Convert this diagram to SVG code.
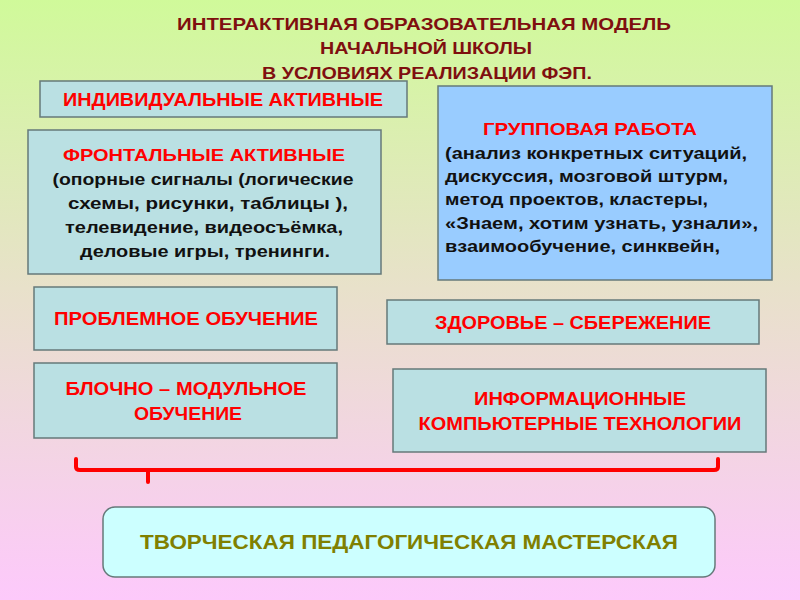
<svg xmlns="http://www.w3.org/2000/svg" width="800" height="600" viewBox="0 0 800 600">
<defs>
<linearGradient id="bg" x1="0" y1="0" x2="0" y2="1">
<stop offset="0" stop-color="#d0fa9a"/>
<stop offset="0.5" stop-color="#e9e0cc"/>
<stop offset="1" stop-color="#fdc9fb"/>
</linearGradient>
<style>
.box{fill:#bae0e3;stroke:#66797a;stroke-width:1.5}
.blue{fill:#99ccff;stroke:#66797a;stroke-width:1.5}
.final{fill:#ccffff;stroke:#66797a;stroke-width:1.5}
.nar{font-family:"Liberation Sans",Arial,sans-serif;font-weight:bold;text-anchor:middle}
.title{fill:#7f0f0f;font-size:17px}
.red{fill:#ff0000;font-size:18.5px}
.olive{fill:#808000;font-size:21px}
.reg{font-family:"Liberation Sans",Arial,sans-serif;font-weight:bold;font-size:17px}
.rh{fill:#ff0000}
.bk{fill:#111111}
.mid{text-anchor:middle}
.brace{fill:none;stroke:#ff0000;stroke-width:4;stroke-linecap:round;stroke-linejoin:round}
</style>
</defs>
<rect width="800" height="600" fill="url(#bg)"/>
<g id="title">
<text class="nar title" x="424" y="30" textLength="494" lengthAdjust="spacingAndGlyphs">ИНТЕРАКТИВНАЯ ОБРАЗОВАТЕЛЬНАЯ  МОДЕЛЬ</text>
<text class="nar title" x="426" y="54" textLength="212" lengthAdjust="spacingAndGlyphs">НАЧАЛЬНОЙ ШКОЛЫ</text>
<text class="nar title" x="427" y="78.5" textLength="330" lengthAdjust="spacingAndGlyphs">В УСЛОВИЯХ РЕАЛИЗАЦИИ ФЭП.</text>
</g>
<g id="individual">
<rect class="box" x="40" y="81" width="367" height="36"/>
<text class="nar red" x="223" y="105.5" textLength="320" lengthAdjust="spacingAndGlyphs">ИНДИВИДУАЛЬНЫЕ АКТИВНЫЕ</text>
</g>
<g id="frontal">
<rect class="box" x="28" y="130" width="353" height="144"/>
<text class="reg rh mid" x="204" y="161" textLength="282" lengthAdjust="spacingAndGlyphs">ФРОНТАЛЬНЫЕ АКТИВНЫЕ</text>
<text class="reg bk mid" x="203" y="185" textLength="301" lengthAdjust="spacingAndGlyphs">(опорные сигналы (логические</text>
<text class="reg bk mid" x="208" y="209" textLength="280" lengthAdjust="spacingAndGlyphs">схемы,  рисунки, таблицы ),</text>
<text class="reg bk mid" x="204" y="233" textLength="278" lengthAdjust="spacingAndGlyphs">телевидение, видеосъёмка,</text>
<text class="reg bk mid" x="205" y="257" textLength="250" lengthAdjust="spacingAndGlyphs">деловые игры, тренинги.</text>
</g>
<g id="group">
<rect class="blue" x="438" y="86" width="334" height="194"/>
<text class="reg rh" x="483" y="135" textLength="214" lengthAdjust="spacingAndGlyphs">ГРУППОВАЯ РАБОТА</text>
<text class="reg bk" x="445" y="159" textLength="302" lengthAdjust="spacingAndGlyphs">(анализ конкретных ситуаций,</text>
<text class="reg bk" x="445" y="182" textLength="283" lengthAdjust="spacingAndGlyphs">дискуссия, мозговой штурм,</text>
<text class="reg bk" x="445" y="205" textLength="263" lengthAdjust="spacingAndGlyphs">метод проектов, кластеры,</text>
<text class="reg bk" x="445" y="229" textLength="313" lengthAdjust="spacingAndGlyphs">«Знаем, хотим узнать, узнали»,</text>
<text class="reg bk" x="445" y="252" textLength="275" lengthAdjust="spacingAndGlyphs">взаимообучение, синквейн,</text>
</g>
<g id="problem">
<rect class="box" x="34" y="287" width="303" height="63"/>
<text class="nar red" x="186" y="325" textLength="264" lengthAdjust="spacingAndGlyphs">ПРОБЛЕМНОЕ  ОБУЧЕНИЕ</text>
</g>
<g id="health">
<rect class="box" x="387" y="300" width="372" height="44"/>
<text class="nar red" x="573" y="329" textLength="276" lengthAdjust="spacingAndGlyphs">ЗДОРОВЬЕ – СБЕРЕЖЕНИЕ</text>
</g>
<g id="block">
<rect class="box" x="34" y="363" width="303" height="75"/>
<text class="nar red" x="186" y="395" textLength="241" lengthAdjust="spacingAndGlyphs">БЛОЧНО – МОДУЛЬНОЕ</text>
<text class="nar red" x="188" y="420" textLength="108" lengthAdjust="spacingAndGlyphs">ОБУЧЕНИЕ</text>
</g>
<g id="ict">
<rect class="box" x="393" y="369" width="373" height="83"/>
<text class="nar red" x="580" y="405" textLength="212" lengthAdjust="spacingAndGlyphs">ИНФОРМАЦИОННЫЕ</text>
<text class="nar red" x="580" y="430" textLength="323" lengthAdjust="spacingAndGlyphs">КОМПЬЮТЕРНЫЕ ТЕХНОЛОГИИ</text>
</g>
<g id="connectors">
<path class="brace" d="M76,459 V467 Q76,470 80,470 H714 Q718,470 718,467 V459 M148,470 V482"/>
</g>
<g id="workshop">
<rect class="final" x="103" y="507" width="612" height="70" rx="12" ry="12"/>
<text class="nar olive" x="409" y="549" textLength="538" lengthAdjust="spacingAndGlyphs">ТВОРЧЕСКАЯ  ПЕДАГОГИЧЕСКАЯ МАСТЕРСКАЯ</text>
</g>
</svg>
